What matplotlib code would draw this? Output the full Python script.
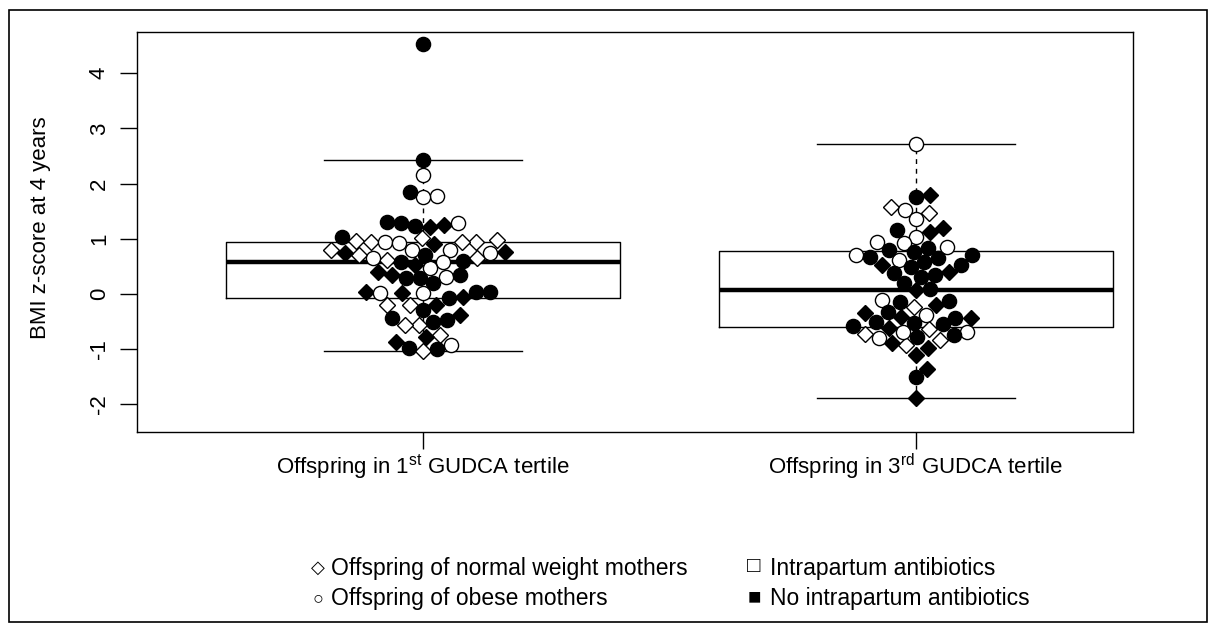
import numpy as np
import matplotlib

matplotlib.use("Agg")
import matplotlib.pyplot as plt
from matplotlib.patches import Rectangle


plt.rcParams["font.family"] = ["Liberation Sans", "DejaVu Sans"]
plt.rcParams["mathtext.fontset"] = "custom"
plt.rcParams["mathtext.rm"] = "Liberation Sans"

OUTPUT_PATH = "out.png"

# x-axis groups
GROUP_LABELS = [
    r"Offspring in 1$^{\mathrm{st}}$ GUDCA tertile",
    r"Offspring in 3$^{\mathrm{rd}}$ GUDCA tertile",
]

# point kinds: O/F = open (intrapartum antibiotics) / filled (none)
#              D/C = diamond (normal weight mother) / circle (obese mother)
TERTILE1_BMI_Z = [
    4.53, 2.42, 2.16, 1.84, 1.78, 1.75, 1.31, 1.29, 1.29, 1.25,
    1.24, 1.22, 1.04, 1.01, 0.98, 0.96, 0.95, 0.95, 0.94, 0.94,
    0.92, 0.90, 0.80, 0.80, 0.80, 0.76, 0.75, 0.75, 0.71, 0.71,
    0.66, 0.65, 0.62, 0.60, 0.58, 0.58, 0.53, 0.47, 0.40, 0.35,
    0.35, 0.31, 0.29, 0.29, 0.20, 0.04, 0.04, 0.04, 0.02, 0.02,
    0.02, -0.05, -0.08, -0.20, -0.20, -0.20, -0.29, -0.38, -0.44, -0.47,
    -0.51, -0.56, -0.56, -0.75, -0.78, -0.87, -0.93, -0.98, -1.00, -1.03,
]
TERTILE1_KIND = [
    "FC", "FC", "OC", "FC", "OC", "OC", "FC", "FC", "OC", "FD",
    "FC", "FD", "FC", "OD", "OD", "OD", "OD", "OD", "OC", "OD",
    "OC", "FD", "OC", "OC", "OD", "FD", "OC", "FD", "FC", "OD",
    "OD", "OC", "OD", "FC", "OC", "FC", "FD", "OC", "FD", "FD",
    "FC", "OC", "FC", "FC", "FC", "FC", "FD", "FC", "OC", "FD",
    "OC", "FD", "FC", "FD", "OD", "OD", "FC", "FD", "FC", "FC",
    "FC", "OD", "OD", "OD", "FD", "FD", "OC", "FC", "FC", "OD",
]

TERTILE3_BMI_Z = [
    2.71, 1.80, 1.75, 1.58, 1.53, 1.47, 1.36, 1.20, 1.16, 1.13,
    1.04, 0.95, 0.93, 0.85, 0.84, 0.80, 0.76, 0.71, 0.71, 0.67,
    0.65, 0.62, 0.58, 0.53, 0.53, 0.49, 0.40, 0.38, 0.35, 0.31,
    0.20, 0.09, 0.07, -0.10, -0.13, -0.15, -0.20, -0.24, -0.33, -0.35,
    -0.38, -0.42, -0.44, -0.44, -0.50, -0.53, -0.55, -0.58, -0.62, -0.64,
    -0.68, -0.69, -0.72, -0.75, -0.78, -0.80, -0.84, -0.89, -0.93, -0.97,
    -1.11, -1.35, -1.51, -1.89,
]
TERTILE3_KIND = [
    "OC", "FD", "FC", "OD", "OC", "OD", "OC", "FD", "FC", "FD",
    "OC", "OC", "OC", "OC", "FC", "FC", "FC", "FC", "OC", "FC",
    "FC", "OC", "FC", "FD", "FC", "FC", "FD", "FC", "FC", "FC",
    "FC", "FC", "FD", "OC", "FC", "FC", "FD", "OD", "FC", "FD",
    "OC", "FD", "FC", "FD", "FC", "FC", "FC", "FC", "FD", "OD",
    "OC", "OC", "OD", "FC", "FC", "OC", "OD", "FD", "OD", "FD",
    "FD", "FD", "FC", "FD",
]

Y_TICKS = [-2, -1, 0, 1, 2, 3, 4]

LEGEND_LEFT = [
    ("\u25c7", "Offspring of normal weight mothers"),
    ("\u25cb", "Offspring of obese mothers"),
]
LEGEND_RIGHT = [
    ("\u25a1", "Intrapartum antibiotics"),
    ("\u25a0", "No intrapartum antibiotics"),
]

KIND_STYLE = {
    "OD": dict(marker="D", markerfacecolor="white", markersize=8.6),
    "FD": dict(marker="D", markerfacecolor="black", markersize=8.6),
    "OC": dict(marker="o", markerfacecolor="white", markersize=10.2),
    "FC": dict(marker="o", markerfacecolor="black", markersize=10.2),
}


def r_boxplot_stats(values, coef=1.5):
    """Tukey hinges and whiskers, computed the same way as R's boxplot.stats."""
    x = np.sort(np.asarray(values, dtype=float))
    n = len(x)
    n4 = np.floor((n + 3) / 2) / 2
    d = np.array([1, n4, (n + 1) / 2, n + 1 - n4, n]) - 1
    five = 0.5 * (x[np.floor(d).astype(int)] + x[np.ceil(d).astype(int)])
    iqr = five[3] - five[1]
    inside = x[(x >= five[1] - coef * iqr) & (x <= five[3] + coef * iqr)]
    return {
        "whislo": inside.min(),
        "q1": five[1],
        "med": five[2],
        "q3": five[3],
        "whishi": inside.max(),
        "fliers": [],
    }


def swarm_offsets(y_px, spacing):
    """Beeswarm layout: each point goes to the free slot nearest the centre line."""
    offsets = np.zeros(len(y_px))
    placed = []
    for i in np.argsort(y_px, kind="stable"):
        y = y_px[i]
        candidates = [0.0]
        for px, py in placed:
            dy = abs(y - py)
            if dy < spacing:
                dx = np.sqrt(spacing ** 2 - dy ** 2)
                candidates += [px + dx, px - dx]
        candidates.sort(key=abs)
        for cx in candidates:
            if all((cx - px) ** 2 + (y - py) ** 2 >= spacing ** 2 - 1e-6 for px, py in placed):
                break
        offsets[i] = cx
        placed.append((cx, y))
    return offsets


def draw_group(ax, position, values, kinds, px_per_x, px_per_y):
    y_px = np.asarray(values) * px_per_y
    x = position + swarm_offsets(y_px, spacing=14.2) / px_per_x
    kinds = np.asarray(kinds)
    values = np.asarray(values)
    for kind, style in KIND_STYLE.items():
        mask = kinds == kind
        ax.plot(
            x[mask], values[mask], linestyle="none",
            markeredgecolor="black", markeredgewidth=1.0, zorder=3, **style,
        )


def main():
    fig = plt.figure(figsize=(12.17, 6.32), dpi=100)
    ax = fig.add_axes([137 / 1217, 200 / 632, 996 / 1217, 400 / 632])
    ax.set_xlim(0.42, 2.44)
    ax.set_ylim(-2.5, 4.746)

    groups = [
        (TERTILE1_BMI_Z, TERTILE1_KIND),
        (TERTILE3_BMI_Z, TERTILE3_KIND),
    ]
    for values, kinds in groups:
        assert len(values) == len(kinds)

    stats = [r_boxplot_stats(values) for values, _ in groups]
    ax.bxp(
        stats, positions=[1, 2], widths=0.8, capwidths=0.4, showfliers=False,
        boxprops=dict(color="black", linewidth=1.0),
        medianprops=dict(color="black", linewidth=3.2, solid_capstyle="butt"),
        whiskerprops=dict(color="black", linewidth=1.0, linestyle=(0, (3.5, 3.5))),
        capprops=dict(color="black", linewidth=1.0),
        manage_ticks=False,
    )

    # pixel scale of the data axes, used for the swarm spacing
    fig_w, fig_h = fig.get_size_inches() * fig.dpi
    pos = ax.get_position()
    px_per_x = pos.width * fig_w / (ax.get_xlim()[1] - ax.get_xlim()[0])
    px_per_y = pos.height * fig_h / (ax.get_ylim()[1] - ax.get_ylim()[0])

    for position, (values, kinds) in zip([1, 2], groups):
        draw_group(ax, position, values, kinds, px_per_x, px_per_y)

    ax.set_yticks(Y_TICKS)
    ax.set_yticklabels([str(t) for t in Y_TICKS], rotation=90, va="center")
    ax.set_xticks([1, 2])
    ax.set_xticklabels(GROUP_LABELS)
    ax.tick_params(axis="both", direction="out", length=12.5, width=1.0,
                   labelsize=16, color="black")
    ax.tick_params(axis="y", pad=7)
    ax.tick_params(axis="x", pad=2)
    for spine in ax.spines.values():
        spine.set_linewidth(1.0)

    fig.text(41 / 1217, 1 - 228 / 632, "BMI z-score at 4 years",
             rotation=90, ha="center", va="center", fontsize=16)

    # legend written out as two text columns below the axes
    rows_y = [1 - 568 / 632, 1 - 599 / 632]
    for (symbol, label), y in zip(LEGEND_LEFT, rows_y):
        fig.text(318 / 1217, y, symbol, ha="center", va="center", fontsize=13)
        fig.text(331 / 1217, y, label, ha="left", va="center", fontsize=16.5)
    for (symbol, label), y in zip(LEGEND_RIGHT, rows_y):
        fig.text(754 / 1217, y + 0.002, symbol, ha="center", va="center", fontsize=16)
        fig.text(770 / 1217, y, label, ha="left", va="center", fontsize=16.5)

    fig.add_artist(Rectangle(
        (9 / 1217, 10 / 632), 1198 / 1217, 612 / 632,
        transform=fig.transFigure, fill=False, edgecolor="black", linewidth=1.2,
    ))

    fig.savefig(OUTPUT_PATH, dpi=100, facecolor="white")
    plt.close(fig)


if __name__ == "__main__":
    main()
